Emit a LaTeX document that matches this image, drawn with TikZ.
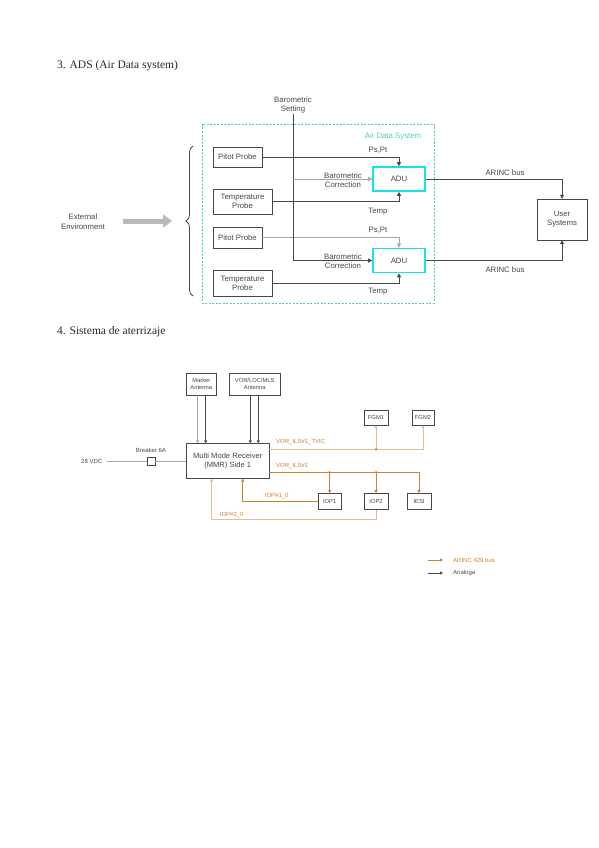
\documentclass[tikz,border=0pt]{standalone}
\usepackage{fontspec}
\setmainfont{Liberation Serif}
\setsansfont{Liberation Sans}
\usetikzlibrary{arrows.meta}
\usetikzlibrary{positioning, calc}
\usetikzlibrary{decorations.pathreplacing}
\definecolor{mycyan}{RGB}{20,225,235}
\definecolor{myteal}{RGB}{80,205,185}
\definecolor{myorange}{RGB}{200,130,50}
\definecolor{mylight}{RGB}{228,190,140}
\definecolor{mygray}{RGB}{70,70,70}

\tikzset{
  box/.style={draw=mygray, fill=white, inner sep=0pt, align=center, text=mygray,
    font=\sffamily\fontsize{7.8}{9}\selectfont},
  smallbox/.style={box, font=\sffamily\fontsize{5.8}{6.8}\selectfont},
  adu/.style={box, draw=mycyan, line width=1.6pt},
  lbl/.style={text=mygray, inner sep=0pt, align=center, font=\sffamily\fontsize{7.8}{9.5}\selectfont},
  smalllbl/.style={lbl, font=\sffamily\fontsize{6}{7}\selectfont},
  buslbl/.style={smalllbl, text=myorange},
  heading/.style={anchor=base west, inner sep=0pt, text=black!85, font=\fontsize{11.5}{14}\selectfont},
  wire/.style={draw=mygray, line width=0.8pt},
  thinwire/.style={draw=gray!70, line width=0.5pt},
  bus/.style={draw=myorange, line width=0.8pt},
  lightbus/.style={draw=mylight, line width=0.6pt},
  arr/.style={-{Triangle[length=4pt,width=4pt]}},
  oarr/.style={-{Triangle[length=3pt,width=3pt]}},
}

\begin{document}
\begin{tikzpicture}[x=1pt,y=-1pt]
\useasboundingbox (0,0) rectangle (599,848);

\node[heading] (title1) at (57,69) {3. ADS (Air Data system)};
\node[heading] (title2) at (57,334) {4. Sistema de aterrizaje};

\begin{scope}
\draw[draw=myteal, dash pattern=on 2pt off 1.5pt, line width=0.6pt] (202,124) rectangle (434,303);
\node[lbl, text=myteal] (adslbl) at (393,136) {Air Data System};

\node[lbl] (baro) at (293,105) {Barometric\\Setting};
\node[lbl] (ext) at (83,221.5) {External\\Environment};
\coordinate (envin) at (123,221);
\coordinate (envout) at (172,221);
\draw[line width=5pt, draw=gray!55, -{Triangle[length=9pt,width=13pt]}] (envin) -- (envout);
\draw[mygray, line width=0.8pt, decorate, decoration={brace, amplitude=7pt}] (193,296) -- (193,146);

\node[box, minimum width=49, minimum height=20] (pitot1) at (237.5,157) {Pitot Probe};
\node[box, minimum width=59, minimum height=25] (temp1) at (242.5,201.5) {Temperature\\Probe};
\node[box, minimum width=49, minimum height=21] (pitot2) at (237.5,237.5) {Pitot Probe};
\node[box, minimum width=59, minimum height=26] (temp2) at (242.5,283) {Temperature\\Probe};
\node[adu, minimum width=52, minimum height=24] (adu1) at (399,179) {ADU};
\node[adu, minimum width=52, minimum height=24] (adu2) at (399,260.5) {ADU};
\node[box, minimum width=50, minimum height=41] (user) at (562,219.5) {User\\Systems};

\draw[wire, arr] (pitot1) -| (adu1);
\draw[wire, arr] (temp1) -| (adu1);
\draw[thinwire, arr] (pitot2) -| (adu2);
\draw[wire, arr] (temp2) -| (adu2);
\draw[wire, arr] (baro) |- (adu2);
\coordinate (tap) at (293,179);
\draw[thinwire, arr] (tap) -- (adu1);
\draw[wire, arr] (adu1) -| (user);
\draw[wire, arr] (adu2) -| (user);

\node[lbl] (pspt1) at (378,150) {Ps,Pt};
\node[lbl, anchor=east] (corr1) at (362,180) {Barometric\\Correction};
\node[lbl] (tmp1) at (378,212) {Temp};
\node[lbl] (pspt2) at (378,230) {Ps,Pt};
\node[lbl, anchor=east] (corr2) at (362,261) {Barometric\\Correction};
\node[lbl] (tmp2) at (378,292) {Temp};
\node[lbl] (bus1) at (505,173) {ARINC bus};
\node[lbl] (bus2) at (505,270) {ARINC bus};
\end{scope}

\begin{scope}
\node[smallbox, minimum width=30.7, minimum height=21.7] (marker) at (201.3,384) {Marker\\Antenna};
\node[smallbox, minimum width=50.7, minimum height=21.7] (vor) at (254.7,384) {VOR/LOC/MLS\\Antenna};
\node[box, font=\sffamily\fontsize{7.6}{9}\selectfont, minimum width=83.3, minimum height=35] (mmr) at (227.7,461) {Multi Mode Receiver\\(MMR) Side 1};

\coordinate (mk1) at (197.7,395);
\coordinate (mk2) at (205.7,395);
\coordinate (vr1) at (250.3,395);
\coordinate (vr2) at (258.3,395);
\draw[thinwire, oarr] (mk1) -- (mk1 |- mmr.north);
\draw[wire, oarr] (mk2) -- (mk2 |- mmr.north);
\draw[wire, oarr] (vr1) -- (vr1 |- mmr.north);
\draw[wire, oarr] (vr2) -- (vr2 |- mmr.north);

\node[smalllbl, inner xsep=5pt] (vdc) at (91.7,461) {28 VDC};
\node[draw=mygray, fill=white, minimum size=7.5, inner sep=0pt] (brk) at (151,461) {};
\node[smalllbl, above=4pt of brk] (brklbl) {Breaker 6A};
\draw[thinwire] (vdc) -- (brk);
\draw[thinwire] (brk) -- (mmr);

\node[smallbox, minimum width=24, minimum height=15] (fgm1) at (376,417.5) {FGM1};
\node[smallbox, minimum width=22.3, minimum height=15] (fgm2) at (423,417.5) {FGM2};
\node[smallbox, minimum width=22.7, minimum height=16] (iop1) at (329.7,501.3) {IOP1};
\node[smallbox, minimum width=24, minimum height=16] (iop2) at (376,501.3) {IOP2};
\node[smallbox, minimum width=24.3, minimum height=16] (iesi) at (419,501.3) {IESI};

\coordinate (tvic) at (269.4,449.3);
\coordinate (j1) at (376,449.3);
\draw[lightbus, oarr] (tvic) -| (fgm2);
\draw[lightbus, oarr] (j1) -- (fgm1);
\fill[myorange] (j1) circle (1.3);

\coordinate (ils) at (269.4,472.3);
\coordinate (j2) at (329.7,472.3);
\coordinate (j3) at (376,472.3);
\draw[bus, oarr] (ils) -| (iesi);
\draw[bus, oarr] (j2) -- (iop1);
\draw[bus, oarr] (j3) -- (iop2);
\fill[myorange] (j2) circle (1.3);
\fill[myorange] (j3) circle (1.3);

\coordinate (r1) at (242.7,478.5);
\coordinate (r2) at (211.7,478.5);
\draw[bus, oarr] (iop1.west) -| (r1);
\draw[lightbus, oarr] (iop2.south) -- ++(0,10) -| (r2);

\node[buslbl, anchor=west] (tviclbl) at (276,442) {VOR\_ILS\#1\_TVIC};
\node[buslbl, anchor=west] (ilslbl) at (276,466) {VOR\_ILS\#1};
\node[buslbl] (iop1lbl) at (276.7,496) {IOP\#1\_0};
\node[buslbl] (iop2lbl) at (231.7,515) {IOP\#2\_0};

\node[buslbl, anchor=west] (lgbus) at (453,560) {ARINC 429 bus};
\node[smalllbl, anchor=west] (lgana) at (453,573) {Analoga};
\coordinate (lg1) at (428,560);
\coordinate (lg2) at (428,573);
\draw[bus, oarr] (lg1) -- (lg1 -| 443,0);
\draw[wire, line width=0.5pt, oarr] (lg2) -- (lg2 -| 443,0);
\end{scope}
\end{tikzpicture}
\end{document}
